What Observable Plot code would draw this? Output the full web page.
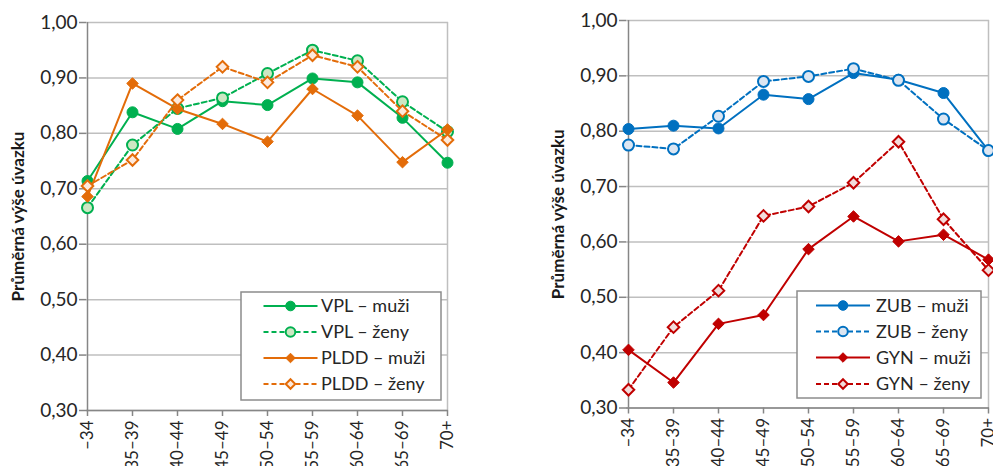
<!DOCTYPE html>
<html><head><meta charset="utf-8">
<script src="https://cdn.jsdelivr.net/npm/d3@7"></script>
<script src="https://cdn.jsdelivr.net/npm/@observablehq/plot@0.6"></script>
<style>
body{margin:0;background:#fff;font-family:Lato, sans-serif;}
#wrap{position:relative;width:993px;height:466px;overflow:hidden;background:#fff;}
.panel{position:absolute;top:0;}
.legend{position:absolute;}
</style></head><body><div id="wrap"></div>
<script>
const ages = ["–34","35–39","40–44","45–49","50–54","55–59","60–64","65–69","70+"];
const yTicks = [0.3,0.4,0.5,0.6,0.7,0.8,0.9,1.0];
const yTitle = "Průměrná výše úvazku";

const vplMuzi = [0.714,0.838,0.808,0.858,0.851,0.899,0.892,0.828,0.747];
const vplZeny = [0.666,0.779,0.845,0.864,0.908,0.950,0.931,0.857,0.803];
const pldMuzi = [0.686,0.890,0.844,0.817,0.785,0.880,0.832,0.748,0.807];
const pldZeny = [0.705,0.752,0.860,0.920,0.892,0.941,0.920,0.840,0.788];
const zubMuzi = [0.804,0.810,0.805,0.866,0.858,0.905,0.893,0.869,0.765];
const zubZeny = [0.775,0.768,0.827,0.890,0.899,0.913,0.892,0.822,0.765];
const gynMuzi = [0.405,0.346,0.452,0.468,0.587,0.646,0.601,0.613,0.568];
const gynZeny = [0.333,0.446,0.512,0.647,0.664,0.707,0.781,0.641,0.549];

const leftSeries = [
  {name:"VPL – muži", values:vplMuzi, color:"#00B050", fill:"#00B050", dashed:false, symbol:"circle"},
  {name:"VPL – ženy", values:vplZeny, color:"#00B050", fill:"#CDE7C3", dashed:true, symbol:"circle"},
  {name:"PLDD – muži", values:pldMuzi, color:"#E36C09", fill:"#E36C09", dashed:false, symbol:"diamond2"},
  {name:"PLDD – ženy", values:pldZeny, color:"#E36C09", fill:"#FDE9DC", dashed:true, symbol:"diamond2"}
];
const rightSeries = [
  {name:"ZUB – muži", values:zubMuzi, color:"#0070C0", fill:"#0070C0", dashed:false, symbol:"circle"},
  {name:"ZUB – ženy", values:zubZeny, color:"#0070C0", fill:"#DCE6F2", dashed:true, symbol:"circle"},
  {name:"GYN – muži", values:gynMuzi, color:"#C00000", fill:"#C00000", dashed:false, symbol:"diamond2"},
  {name:"GYN – ženy", values:gynZeny, color:"#C00000", fill:"#F2DCDB", dashed:true, symbol:"diamond2"}
];

const fmt = d => d.toFixed(2).replace(".", ",");
const wrap = document.getElementById("wrap");
const axisGray = "#868686", gridGray = "#bfbfbf", textCol = "#262626";

function panel(series, o) {
  const H = 480;
  const marks = [
    Plot.gridY(yTicks, {stroke:gridGray, strokeOpacity:1, strokeWidth:1.5}),
    Plot.ruleX([ages[ages.length-1]], {stroke:gridGray, strokeWidth:1.5}),
    Plot.ruleX([ages[0]], {stroke:axisGray, strokeWidth:1.5}),
    Plot.ruleY([0.3], {stroke:axisGray, strokeWidth:1.5}),
    Plot.axisY(yTicks, {tickFormat:fmt, tickSize:7, tickPadding:2, stroke:axisGray, strokeWidth:1.5, label:null, fill:textCol, fontSize:19}),
    Plot.axisX(ages, {tickRotate:-90, tickSize:6, tickPadding:4, stroke:axisGray, strokeWidth:1.5, label:null, fill:textCol, fontSize:17}),
    Plot.text([yTitle], {frameAnchor:"left", textAnchor:"middle", rotate:-90, dx:-68, fontWeight:"bold", fontSize:17, fill:"#1a1a1a"})
  ];
  for (const s of series) {
    const data = ages.map((a,i)=>({age:a, v:s.values[i]}));
    marks.push(Plot.line(data, {x:"age", y:"v", stroke:s.color, strokeWidth:2, strokeDasharray:s.dashed?"5,3":null}));
    marks.push(Plot.dot(data, {x:"age", y:"v", symbol:s.symbol, r:s.symbol==="circle"?5.5:5.2,
      fill:s.fill, stroke:s.color, strokeWidth:s.dashed?2:1}));
  }
  const svg = Plot.plot({
    width:o.width, height:H, marginLeft:o.ml, marginRight:o.mr, marginTop:o.mt, marginBottom:H-o.bottom,
    style:{fontFamily:"Lato, sans-serif", fontSize:"19px", background:"transparent"},
    x:{type:"point", domain:ages, padding:0},
    y:{domain:[0.3,1.0]},
    marks
  });
  svg.classList.add("panel");
  svg.style.left = o.left + "px";
  wrap.appendChild(svg);

  // legend
  const L = o.legend;
  const lg = d3.create("svg").attr("class","legend").attr("width",L.w+2).attr("height",L.h+2)
    .style("left",(L.x-1)+"px").style("top",(L.y-1)+"px");
  lg.append("rect").attr("x",1).attr("y",1).attr("width",L.w).attr("height",L.h)
    .attr("fill","#fff").attr("stroke","#8c8c8c").attr("stroke-width",1.5);
  series.forEach((s,i)=>{
    const cy = 1 + L.rows[i];
    lg.append("line").attr("x1",1+L.l0).attr("x2",1+L.l1).attr("y1",cy).attr("y2",cy)
      .attr("stroke",s.color).attr("stroke-width",2).attr("stroke-dasharray",s.dashed?"5,3":null);
    const mx = 1 + (L.l0+L.l1)/2;
    if (s.symbol==="circle") {
      lg.append("circle").attr("cx",mx).attr("cy",cy).attr("r",4.8)
        .attr("fill",s.fill).attr("stroke",s.color).attr("stroke-width",s.dashed?2:1);
    } else {
      lg.append("path").attr("transform",`translate(${mx},${cy})`)
        .attr("d",d3.symbol(d3.symbolDiamond2, 4.3*4.3*Math.PI)())
        .attr("fill",s.fill).attr("stroke",s.color).attr("stroke-width",s.dashed?2:1);
    }
    lg.append("text").attr("x",1+L.tx).attr("y",cy).attr("dy","0.35em")
      .attr("font-family","Lato, sans-serif").attr("font-size",18).attr("fill",textCol).text(s.name);
  });
  wrap.appendChild(lg.node());
}

panel(leftSeries, {left:0, width:460, ml:86, mr:12, mt:22, bottom:410,
  legend:{x:240.5, y:292, w:200, h:108, rows:[14,40,66,92], l0:22.5, l1:76.5, tx:80}});
panel(rightSeries, {left:500, width:493, ml:126, mr:4, mt:20, bottom:407.5,
  legend:{x:797, y:290.5, w:184, h:107, rows:[14.5,40.5,66.5,93], l0:19, l1:73, tx:79}});
</script>
</body></html>
